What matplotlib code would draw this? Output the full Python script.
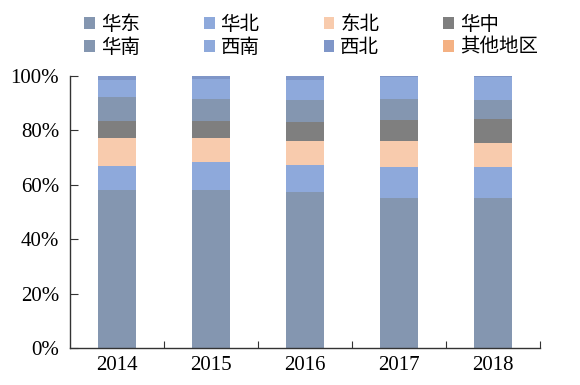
import matplotlib
matplotlib.use("Agg")
import matplotlib.pyplot as plt
from matplotlib.patches import Patch
import numpy as np

years = ["2014", "2015", "2016", "2017", "2018"]
regions = ["华东", "华北", "东北", "华中", "华南", "西南", "西北", "其他地区"]
huadong = [58.0, 58.0, 57.4, 55.2, 55.2]
huabei = [9.0, 10.2, 9.8, 11.2, 11.2]
dongbei = [10.0, 8.8, 8.9, 9.7, 8.8]
huazhong = [6.5, 6.5, 7.0, 7.5, 8.8]
huanan = [8.8, 7.9, 8.2, 7.9, 7.3]
xinan = [6.1, 7.3, 7.1, 8.1, 8.4]
xibei = [1.4, 1.2, 1.5, 0.3, 0.2]
qita = [0.2, 0.1, 0.1, 0.1, 0.1]
series = [huadong, huabei, dongbei, huazhong, huanan, xinan, xibei, qita]
colors = ["#8496B0", "#8EA9DB", "#F8CBAD", "#7F7F7F", "#8496B0", "#8EA9DB", "#7F96C8", "#F4B183"]

fig = plt.figure(figsize=(5.8, 3.85), dpi=100)
ax = fig.add_axes([0.121, 0.096, 0.81, 0.707])

x = np.arange(len(years))
bottom = np.zeros(len(years))
handles = []
for name, vals, c in zip(regions, series, colors):
    v = np.array(vals) / 100.0
    ax.bar(x, v, width=0.4, bottom=bottom, color=c, edgecolor="none")
    bottom += v
    handles.append(Patch(facecolor=c, edgecolor="none", label=name))

ax.set_xlim(-0.5, 4.5)
ax.set_ylim(0, 1.0)
ax.set_yticks(np.arange(0, 1.01, 0.2))
ax.set_yticklabels([f"{int(round(t*100))}%" for t in np.arange(0, 1.01, 0.2)],
                   family="Liberation Serif", fontsize=15)
ax.set_xticks(x)
ax.set_xticklabels(years, family="Liberation Serif", fontsize=15)
ax.set_xticks(np.arange(0.5, 4.6, 1.0), minor=True)
ax.tick_params(axis="x", which="major", length=0, pad=6)
ax.tick_params(axis="x", which="minor", direction="in", length=5, width=0.8, color="#333333")
ax.tick_params(axis="y", direction="in", length=6, width=0.8, color="#333333", pad=8)
for s in ["top", "right"]:
    ax.spines[s].set_visible(False)
for s in ["left", "bottom"]:
    ax.spines[s].set_color("#333333")
    ax.spines[s].set_linewidth(1.0)

order = [0, 4, 1, 5, 2, 6, 3, 7]
leg = fig.legend([handles[i] for i in order], [regions[i] for i in order],
                 ncol=4, loc="upper left", bbox_to_anchor=(0.115, 1.01),
                 frameon=False, prop={"family": ["Noto Sans CJK SC", "DejaVu Sans"], "size": 14},
                 handlelength=0.55, handleheight=0.55, handletextpad=0.3,
                 columnspacing=3.3, labelspacing=0.1)

fig.savefig("out.png", dpi=100)
